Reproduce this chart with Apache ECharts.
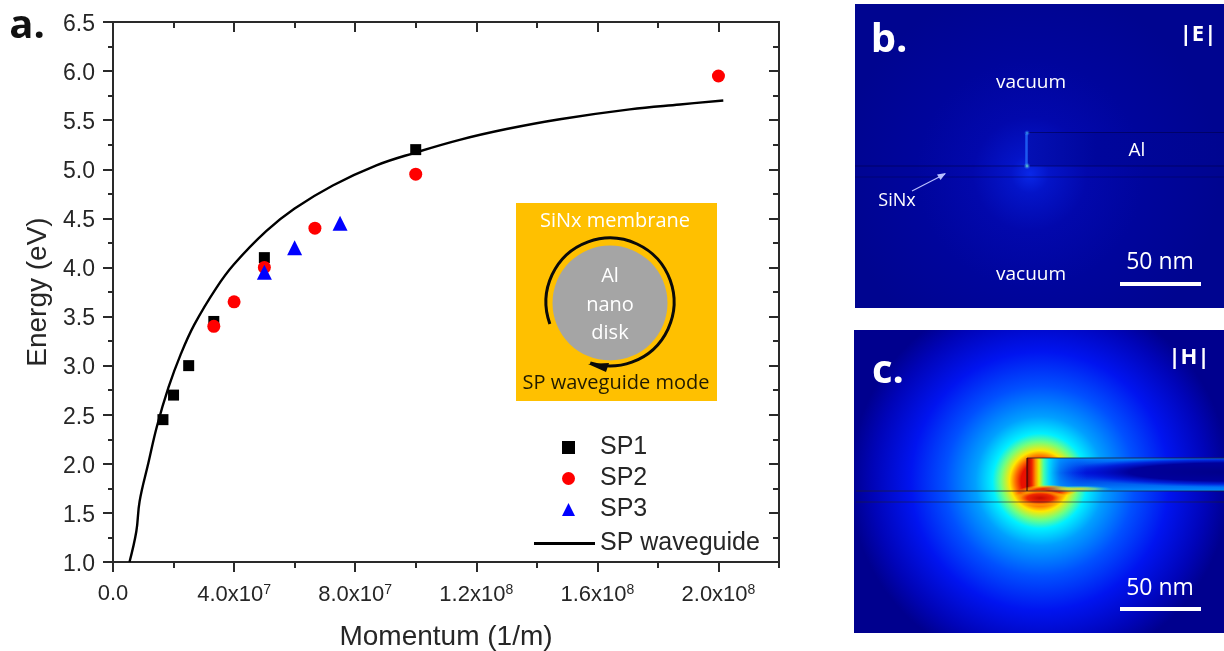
<!DOCTYPE html>
<html><head><meta charset="utf-8">
<style>html,body{margin:0;padding:0;background:#fff}#c{width:1224px;height:651px}</style>
<script src="https://cdn.jsdelivr.net/npm/echarts@6/dist/echarts.min.js"></script>
</head><body><div id="c"></div>
<script>
const sp1 = [[1.65e7,2.45],[2.0e7,2.7],[2.5e7,3.0],[3.33e7,3.45],[5e7,4.1],[1e8,5.2]];
const sp2 = [[3.33e7,3.4],[4e7,3.65],[5e7,4.0],[6.67e7,4.4],[1e8,4.95],[2e8,5.95]];
const sp3 = [[5e7,3.95],[6e7,4.2],[7.5e7,4.45]];
const waveguide = [[5.45e6,1.0],[7.7e6,1.31],[8.8e6,1.62],[11.7e6,2.01],[14.5e6,2.38],[18.35e6,2.78],[22.3e6,3.11],[26.9e6,3.42],[34.1e6,3.79],[39.9e6,4.03],[50.6e6,4.37],[60e6,4.6],[72.6e6,4.835],[87e6,5.04],[99.9e6,5.17],[114.5e6,5.30],[130e6,5.41],[147.6e6,5.51],[170.7e6,5.61],[187.3e6,5.66],[201.6e6,5.70]];
const xMajor = [0,4e7,8e7,1.2e8,1.6e8,2e8];
const xMinor = [2e7,6e7,1e8,1.4e8,1.8e8,2.2e8];
const xLabels = {0:['0.0',''],4e7:['4.0x10','7'],8e7:['8.0x10','7'],1.2e8:['1.2x10','8'],1.6e8:['1.6x10','8'],2e8:['2.0x10','8']};

const AXC='#2a2a2a', TXT='#262626', SANS='"Liberation Sans",Arial,sans-serif', NOTE='"Open Sans","Noto Sans",sans-serif';
function xAxis(o){
  return Object.assign({type:'value',min:0,max:2.2e8,splitLine:{show:false},axisLine:{show:true,onZero:false,lineStyle:{color:AXC,width:2}},axisLabel:{show:false},silent:true},o);
}
const xAxes=[
  xAxis({position:'bottom',name:'Momentum (1/m)',nameLocation:'middle',nameGap:61,nameTextStyle:{fontFamily:SANS,fontSize:28,color:TXT},
    axisTick:{show:true,customValues:xMajor,length:10,lineStyle:{color:AXC,width:2}},
    axisLabel:{show:true,customValues:xMajor,margin:21,formatter:v=>{const l=xLabels[v];return l?(l[1]?`{a|${l[0]}}{b|${l[1]}}`:`{a|${l[0]}}`):''},
      rich:{a:{fontFamily:SANS,fontSize:22,color:TXT},b:{fontFamily:SANS,fontSize:14,color:TXT,verticalAlign:'top',padding:[0,0,9,0]}}}}),
  xAxis({position:'bottom',axisTick:{show:true,customValues:xMinor,length:6,lineStyle:{color:AXC,width:2}}}),
  xAxis({position:'top',axisTick:{show:true,inside:true,customValues:xMajor,length:10,lineStyle:{color:AXC,width:2}}}),
  xAxis({position:'top',axisTick:{show:true,inside:true,customValues:xMinor.slice(0,-1),length:6,lineStyle:{color:AXC,width:2}}})
];
const yBase={type:'value',min:1,max:6.5,interval:0.5,splitLine:{show:false},silent:true,axisLine:{show:true,onZero:false,lineStyle:{color:AXC,width:2}}};
const yAxes=[
  Object.assign({},yBase,{position:'left',name:'Energy (eV)',nameLocation:'middle',nameGap:55,nameTextStyle:{fontFamily:SANS,fontSize:28,color:TXT},
    axisTick:{length:10,lineStyle:{color:AXC,width:2}},minorTick:{show:true,splitNumber:2,length:5,lineStyle:{color:AXC,width:2}},
    axisLabel:{margin:18,formatter:v=>`{t|${v.toFixed(1)}}`,rich:{t:{fontFamily:SANS,fontSize:23,color:TXT,padding:[5,0,0,0]}}}}),
  Object.assign({},yBase,{position:'right',axisLabel:{show:false},axisTick:{show:true,inside:true,length:10,lineStyle:{color:AXC,width:2}},minorTick:{show:true,splitNumber:2,length:6,lineStyle:{color:AXC,width:2}}})
];

/* ---------- annotation graphics (inset and field-map panels b, c) ---------- */
function txt(x,y,s,size,color,weight,font){return {type:'text',x,y,z:20,silent:true,style:{text:s,fill:color||'#fff',font:`${weight||'normal'} ${size}px ${font||NOTE}`,textAlign:'center',textVerticalAlign:'middle'}};}
function seg(x1,y1,x2,y2,color,w,z){return {type:'line',z:z||15,silent:true,shape:{x1,y1,x2,y2},style:{stroke:color,lineWidth:w}};}
function stops(a){return a.map(s=>({offset:s[0],color:s[1]}));}
function radial(x,y,r,a){return {type:'radial',x,y,r,global:true,colorStops:stops(a)};}
function hlin(x,x2,a){return {type:'linear',x,y:0,x2,y2:0,global:true,colorStops:stops(a)};}
function vlin(y,y2,a){return {type:'linear',x:0,y,x2:0,y2,global:true,colorStops:stops(a)};}
function blob(x,y,r,sx,sy,a,z){return {type:'circle',z,silent:true,x,y,scaleX:sx,scaleY:sy,shape:{cx:0,cy:0,r},style:{fill:{type:'radial',x:.5,y:.5,r:.5,colorStops:stops(a)}}};}

const g=[];
// inset
g.push({type:'rect',z:5,silent:true,shape:{x:516,y:203,width:201,height:198},style:{fill:'#FFC000'}});
g.push({type:'circle',z:6,silent:true,shape:{cx:610,cy:303,r:57.5},style:{fill:'#A5A5A5'}});
g.push({type:'arc',z:7,silent:true,shape:{cx:610,cy:302,r:64,startAngle:160*Math.PI/180,endAngle:(360+108)*Math.PI/180,clockwise:true},style:{stroke:'#0a0a0a',lineWidth:3,fill:null}});
g.push({type:'polygon',z:8,silent:true,shape:{points:[[588,364],[609,363],[606,372]]},style:{fill:'#0a0a0a'}});
g.push(txt(615,221,'SiNx membrane',20,'#fff'));
g.push(txt(610,276,'Al',20,'#fff'));
g.push(txt(610,305,'nano',20,'#fff'));
g.push(txt(610,333,'disk',20,'#fff'));
g.push(txt(616,383,'SP waveguide mode',20,'#201a00'));
g.push(txt(27,27,'a.',40,'#111','bold'));

// panel b
g.push({type:'rect',z:5,silent:true,shape:{x:855,y:4,width:369,height:304},style:{fill:radial(1030,174,190,[[0,'#0a28e8'],[0.1,'#0414c8'],[0.3,'#0208ac'],[0.6,'#00059c'],[1,'#000590']])}});
g.push({type:'rect',z:6,silent:true,shape:{x:1027,y:132,width:197,height:34},style:{fill:hlin(1027,1224,[[0,'#0410b4'],[0.35,'#00069c'],[1,'#000590']])}});
g.push(seg(1027,132.5,1224,132.5,'rgba(0,0,70,.55)',1));
g.push(seg(855,166,1224,166,'rgba(0,0,70,.55)',1));
g.push(seg(855,177,1224,177,'rgba(0,0,70,.4)',1));
g.push(seg(1026.5,134,1026.5,165,'#1c58f0',2.5));
g.push({type:'circle',z:16,silent:true,shape:{cx:1027,cy:166,r:3.5},style:{fill:radial(1027,166,3.5,[[0,'#70f0d0'],[1,'rgba(30,90,240,0)']])}});
g.push({type:'circle',z:16,silent:true,shape:{cx:1027,cy:133,r:3},style:{fill:radial(1027,133,3,[[0,'#40b0f0'],[1,'rgba(30,90,240,0)']])}});
g.push(seg(912,191,945,174,'#b8c0ff',1.2));
g.push({type:'polygon',z:16,silent:true,shape:{points:[[946,173],[937,174.5],[940.5,180]]},style:{fill:'#b8c0ff'}});
g.push(txt(889,41,'b.',40,'#fff','bold'));
g.push(txt(1198,35,'|E|',22,'#fff','bold'));
g.push(txt(1031,83,'vacuum',19));
g.push(txt(1031,275,'vacuum',19));
g.push(txt(1137,151,'Al',19));
g.push(txt(897,201,'SiNx',18));
g.push(txt(1160,262,'50 nm',23));
g.push({type:'rect',z:15,silent:true,shape:{x:1120,y:282,width:81,height:4},style:{fill:'#fff'}});

// panel c (jet colour map)
g.push({type:'rect',z:5,silent:true,shape:{x:854,y:330,width:370,height:303},style:{fill:radial(1040,481,190,[
  [0,'#e01000'],[0.1,'#e81000'],[0.13,'#ff7000'],[0.16,'#ffe800'],[0.205,'#70ff80'],[0.25,'#00f0ff'],[0.34,'#00a0ff'],[0.5,'#0050ff'],[0.68,'#0014f0'],[0.88,'#0004b8'],[1,'#00008e']])}});
// Al interior
g.push({type:'rect',z:6,silent:true,shape:{x:1027,y:458,width:197,height:33},style:{fill:vlin(458,491,[[0,'#0088ff'],[0.45,'#0010d8'],[1,'#0090ff']])}});
g.push(blob(1232,472,40,4.3,0.38,[[0,'#000088'],[0.6,'#00009c'],[0.8,'rgba(0,16,210,.75)'],[1,'rgba(0,40,240,0)']],7));
g.push({type:'rect',z:8,silent:true,shape:{x:1027,y:458,width:60,height:33},style:{fill:hlin(1027,1087,[[0,'#a00000'],[0.08,'#f02000'],[0.14,'#ff9000'],[0.2,'#e8f000'],[0.28,'#40ffb0'],[0.37,'rgba(0,225,255,.95)'],[0.55,'rgba(0,150,255,.7)'],[1,'rgba(0,80,255,0)']])}});
// hot sheath along the base of the disk
g.push(blob(1048,491,22,1.35,0.28,[[0,'#e81000'],[0.45,'#f03000'],[0.7,'rgba(255,140,0,.85)'],[1,'rgba(255,230,0,0)']],9));
g.push(blob(1040,498,26,1.0,0.32,[[0,'#c80800'],[0.5,'#f02800'],[0.75,'rgba(255,150,0,.8)'],[1,'rgba(255,230,0,0)']],9));
g.push(blob(1078,489,22,1.6,0.16,[[0,'rgba(255,230,0,.9)'],[0.5,'rgba(170,255,90,.6)'],[1,'rgba(0,220,255,0)']],9));
g.push(seg(1027,458,1224,458,'rgba(30,30,50,.8)',1));
g.push(seg(1027,458,1027,491,'rgba(50,10,10,.9)',1.2));
g.push(seg(856,491,1224,491,'rgba(30,30,50,.75)',1));
g.push(seg(856,502,1224,502,'rgba(30,30,50,.6)',1));
g.push(txt(888,372,'c.',40,'#fff','bold'));
g.push(txt(1189,358,'|H|',22,'#fff','bold'));
g.push(txt(1160,588,'50 nm',23));
g.push({type:'rect',z:15,silent:true,shape:{x:1120,y:607,width:81,height:4},style:{fill:'#fff'}});

const legendText={fontFamily:SANS,fontSize:25,color:TXT,lineHeight:22};
const chart=echarts.init(document.getElementById('c'),null,{renderer:'canvas'});
chart.setOption({
  animation:false,backgroundColor:'#fff',
  grid:{left:113,right:445,top:22,height:540,outerBoundsMode:'none'},
  xAxis:xAxes,yAxis:yAxes,
  legend:[
    {left:557,top:430,orient:'vertical',itemWidth:13,itemHeight:13,itemGap:6,selectedMode:false,
     textStyle:Object.assign({padding:[0,0,0,20]},legendText),data:['SP1','SP2','SP3']},
    {left:529,top:526,orient:'vertical',itemWidth:61,itemHeight:3,selectedMode:false,
     textStyle:legendText,data:[{name:'SP waveguide',icon:'rect'}]}
  ],
  series:[
    {name:'SP1',type:'scatter',data:sp1,symbol:'rect',symbolSize:11,itemStyle:{color:'#000',opacity:1},z:3},
    {name:'SP2',type:'scatter',data:sp2,symbol:'circle',symbolSize:13,itemStyle:{color:'#f00',opacity:1},z:4},
    {name:'SP3',type:'scatter',data:sp3,symbol:'triangle',symbolSize:15,itemStyle:{color:'#00f',opacity:1},z:5},
    {name:'SP waveguide',type:'line',data:waveguide,smooth:0.4,showSymbol:false,symbol:'none',itemStyle:{color:'#000'},lineStyle:{color:'#000',width:2.4},z:6}
  ],
  graphic:{elements:g}
});
</script></body></html>
